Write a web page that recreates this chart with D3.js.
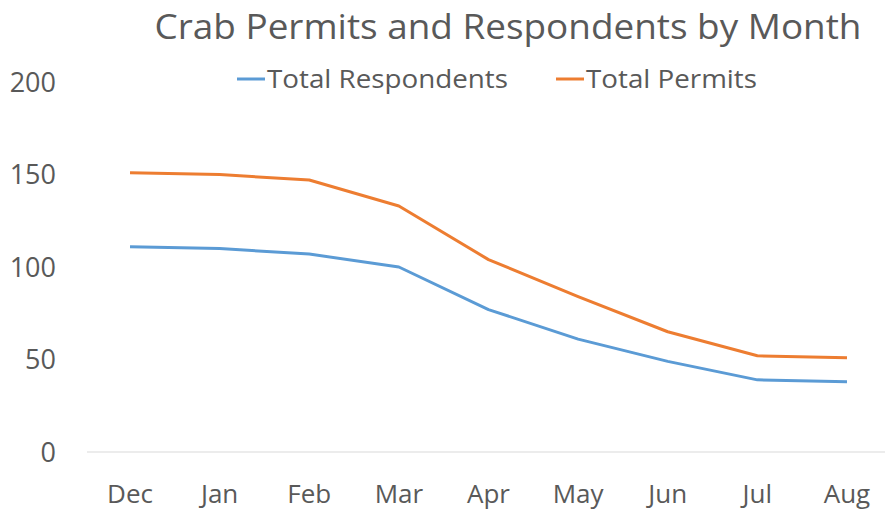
<!DOCTYPE html>
<html>
<head>
<meta charset="utf-8">
<script src="https://cdn.jsdelivr.net/npm/d3@7"></script>
<style>
  body { margin: 0; background: #fff; }
  text { font-family: "Open Sans", sans-serif; fill: #595959; }
</style>
</head>
<body>
<svg id="chart" width="885" height="512"></svg>
<script>
var months = ["Dec", "Jan", "Feb", "Mar", "Apr", "May", "Jun", "Jul", "Aug"];
var respondents = [111, 110, 107, 100, 77, 61, 49, 39, 38];
var permits = [151, 150, 147, 133, 104, 84, 65, 52, 51];
var yTicks = [0, 50, 100, 150, 200];

var seriesNames = ["Total Respondents", "Total Permits"];
var seriesColors = ["#5B9BD5", "#ED7D31"];
var seriesData = [respondents, permits];

var svg = d3.select("#chart");

// plot area (category bands run a bit past the right edge, like the original)
var x = d3.scalePoint().domain(months).range([85.2, 891.8]).padding(0.5);
var y = d3.scaleLinear().domain([0, 200]).range([452, 82]);

// baseline
svg.append("line")
  .attr("x1", 87).attr("x2", 885)
  .attr("y1", y(0)).attr("y2", y(0))
  .attr("stroke", "#d9d9d9")
  .attr("stroke-width", 1);

// y labels
svg.append("g")
  .selectAll("text").data(yTicks).enter().append("text")
    .attr("x", 56)
    .attr("y", d => y(d))
    .attr("dy", "0.36em")
    .style("text-anchor", "end")
    .style("font-size", "27px")
    .text(d => d);

// x labels
svg.append("g")
  .selectAll("text").data(months).enter().append("text")
    .attr("x", d => x(d))
    .attr("y", 503)
    .style("text-anchor", "middle")
    .style("font-size", "26px")
    .text(d => d);

// lines
var line = d3.line()
  .x((d, i) => x(months[i]))
  .y(d => y(d));

seriesData.forEach(function(s, k) {
  svg.append("path")
    .datum(s)
    .attr("fill", "none")
    .attr("stroke", seriesColors[k])
    .attr("stroke-width", 3)
    .attr("stroke-linejoin", "round")
    .attr("d", line);
});

// title
svg.append("text")
  .attr("x", 508)
  .attr("y", 39)
  .style("text-anchor", "middle")
  .style("font-size", "35px")
  .attr("textLength", 707)
  .attr("lengthAdjust", "spacingAndGlyphs")
  .text("Crab Permits and Respondents by Month");

// legend
var legendX = [237, 556];
var legendW = [241, 171];
seriesNames.forEach(function(name, k) {
  var g = svg.append("g");
  g.append("line")
    .attr("x1", legendX[k]).attr("x2", legendX[k] + 28)
    .attr("y1", 79).attr("y2", 79)
    .attr("stroke", seriesColors[k])
    .attr("stroke-width", 3);
  g.append("text")
    .attr("x", legendX[k] + 30)
    .attr("y", 88)
    .style("font-size", "26px")
    .attr("textLength", legendW[k])
    .attr("lengthAdjust", "spacingAndGlyphs")
    .text(name);
});
</script>
</body>
</html>
